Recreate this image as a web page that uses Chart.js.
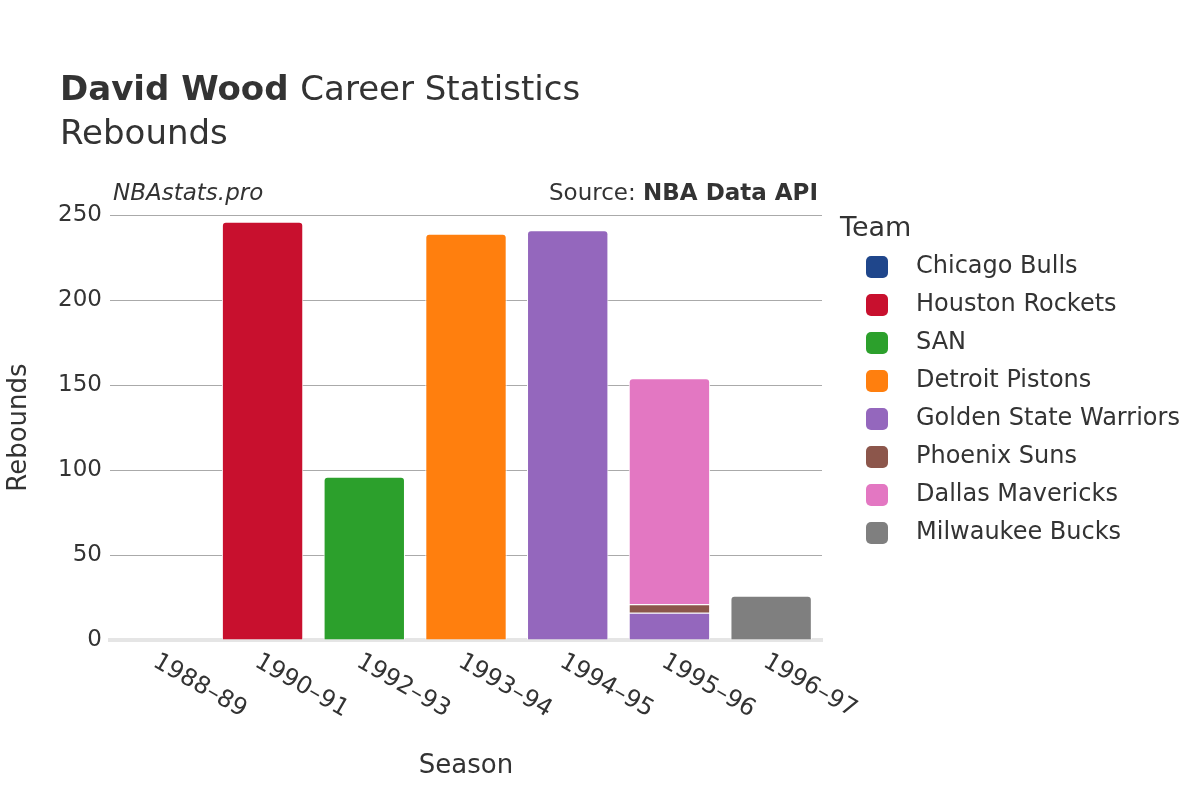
<!DOCTYPE html>
<html>
<head>
<meta charset="utf-8">
<script src="https://cdn.jsdelivr.net/npm/chart.js@4"></script>
<style>
  body { margin: 0; background: #fff; }
  #wrap { width: 1200px; height: 800px; position: relative; }
</style>
</head>
<body>
<div id="wrap"><canvas id="chart" width="1200" height="800"></canvas></div>
<script>
const seasons = ['1988–89', '1990–91', '1992–93', '1993–94', '1994–95', '1995–96', '1996–97'];
const teams = ['Chicago Bulls', 'Houston Rockets', 'SAN', 'Detroit Pistons', 'Golden State Warriors', 'Phoenix Suns', 'Dallas Mavericks', 'Milwaukee Bucks'];
const colors = ['#1f468b', '#c8102e', '#2ca02c', '#ff7f0e', '#9467bd', '#8c564b', '#e377c2', '#7f7f7f'];
const chicago   = [0, null, null, null, null, null, null];
const houston   = [null, 246, null, null, null, null, null];
const san       = [null, null, 96, null, null, null, null];
const detroit   = [null, null, null, 239, null, null, null];
const golden    = [null, null, null, null, 241, 16, null];
const phoenix   = [null, null, null, null, null, 5, null];
const dallas    = [null, null, null, null, null, 133, null];
const milwaukee = [null, null, null, null, null, null, 26];
const values = [chicago, houston, san, detroit, golden, phoenix, dallas, milwaukee];
const yTicks = [0, 50, 100, 150, 200, 250];

const font = 'DejaVu Sans, sans-serif';

const header = {
  id: 'header',
  afterDraw(chart) {
    const c = chart.ctx;
    c.save();
    c.fillStyle = '#333';
    c.textBaseline = 'alphabetic';
    c.font = 'bold 34px ' + font;
    c.fillText('David Wood', 60, 100);
    const w = c.measureText('David Wood ').width;
    c.font = '34px ' + font;
    c.fillText('Career Statistics', 60 + w, 100);
    c.fillText('Rebounds', 60, 144);
    c.font = 'italic 23px ' + font;
    c.fillText('NBAstats.pro', 113, 200);
    c.textAlign = 'right';
    c.font = 'bold 23px ' + font;
    c.fillText('NBA Data API', 818, 200);
    const bw = c.measureText('NBA Data API').width;
    c.font = '23px ' + font;
    c.fillText('Source: ', 818 - bw, 200);
    c.textAlign = 'left';
    c.font = '27px ' + font;
    c.fillText('Team', 840, 236);
    c.font = '24px ' + font;
    teams.forEach((t, i) => {
      const y = 267 + i * 38;
      c.fillStyle = colors[i];
      c.beginPath();
      c.roundRect(866, y - 11, 22, 22, 5);
      c.fill();
      c.fillStyle = '#333';
      c.textBaseline = 'middle';
      c.fillText(t, 916, y);
    });
    // x tick labels, rotated clockwise
    const xs = chart.scales.x;
    c.font = '24px ' + font;
    c.textBaseline = 'middle';
    seasons.forEach((s, i) => {
      c.save();
      c.translate(xs.getPixelForTick(i) - 6, xs.top + 20);
      c.rotate(Math.PI / 6);
      c.fillText(s, 0, 0);
      c.restore();
    });
    c.restore();
  }
};

new Chart(document.getElementById('chart'), {
  type: 'bar',
  data: {
    labels: seasons,
    datasets: teams.map((t, i) => ({
      label: t,
      data: values[i],
      backgroundColor: colors[i],
      borderColor: '#fff',
      borderWidth: 1,
      borderRadius: 4,
      borderSkipped: 'bottom',
      categoryPercentage: 0.8,
      barPercentage: 1.0
    }))
  },
  options: {
    responsive: false,
    animation: false,
    layout: { padding: { top: 215, left: 0, right: 378, bottom: 14 } },
    plugins: { legend: { display: false }, tooltip: { enabled: false } },
    scales: {
      x: {
        stacked: true,
        grid: { display: false },
        border: { color: '#e5e5e5', width: 4 },
        ticks: { color: 'rgba(0,0,0,0)', font: { family: font, size: 24 }, maxRotation: 30, minRotation: 30, padding: 6 },
        title: { display: true, text: 'Season', color: '#333', font: { family: font, size: 26 }, padding: { top: 14 } }
      },
      y: {
        stacked: true,
        min: 0, max: 250,
        afterBuildTicks(axis) { axis.ticks = yTicks.map(v => ({ value: v })); },
        afterFit(axis) { axis.width = 110; },
        grid: { color: '#aaa', drawTicks: false },
        border: { display: false },
        ticks: { color: '#333', font: { family: font, size: 23 }, padding: 8 },
        title: { display: true, text: 'Rebounds', color: '#333', font: { family: font, size: 26 } }
      }
    }
  },
  plugins: [header]
});
</script>
</body>
</html>
